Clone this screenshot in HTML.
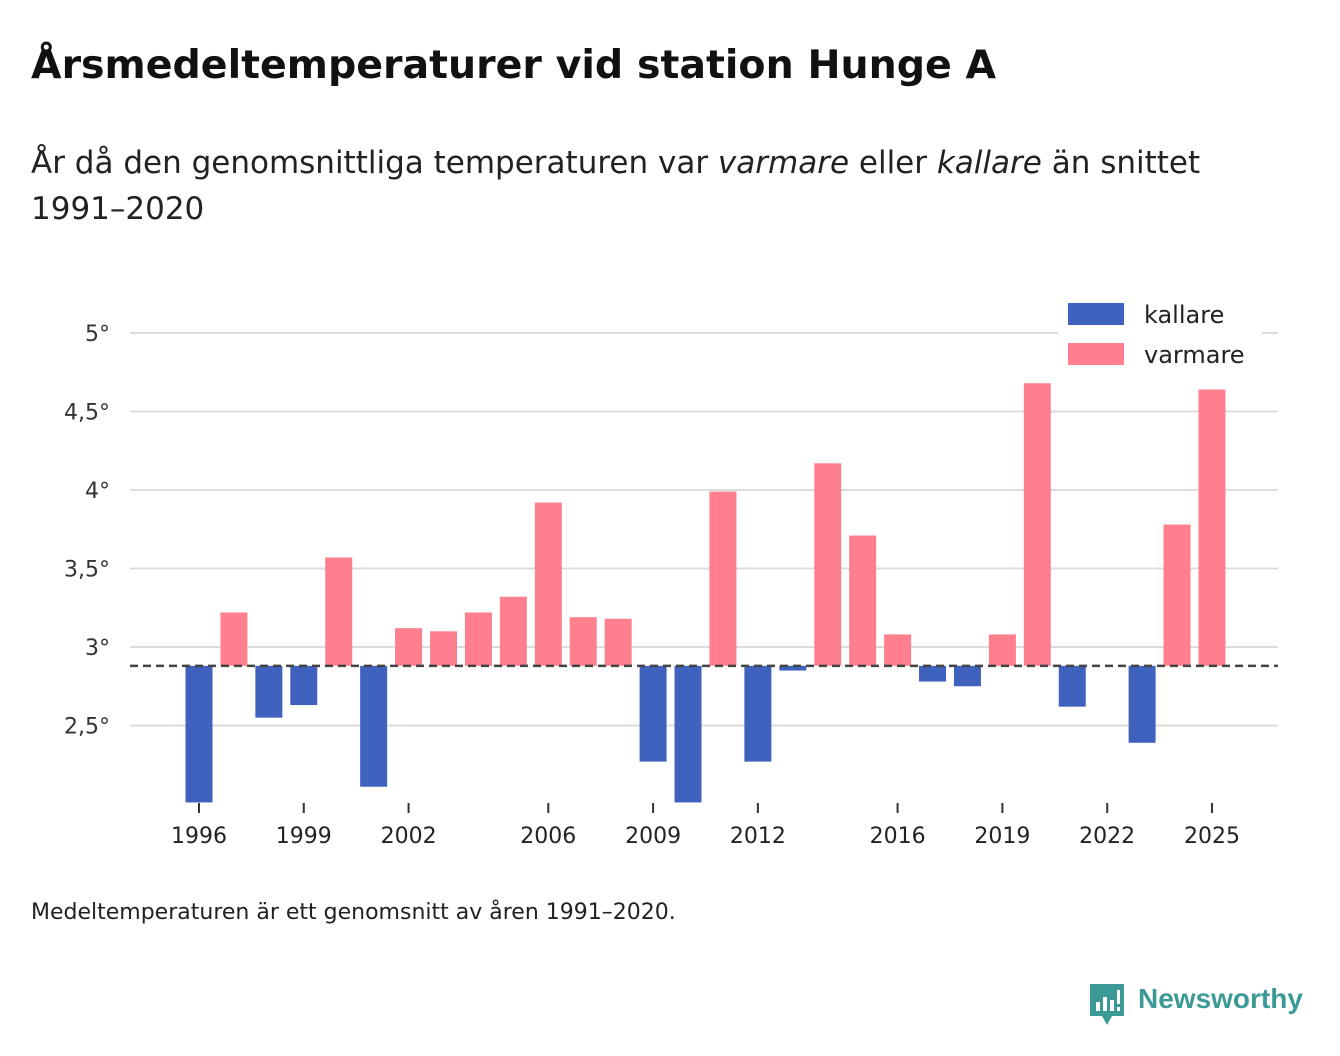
<!DOCTYPE html>
<html><head><meta charset="utf-8"><style>
body{margin:0;background:#fff;font-family:"DejaVu Sans","Liberation Sans",sans-serif;color:#111;}
#wrap{position:relative;width:1340px;height:1056px;overflow:hidden;}
h1{position:absolute;left:31px;top:42px;margin:0;font-size:39.5px;font-weight:bold;}
.sub{position:absolute;left:31px;top:140px;font-size:31px;line-height:46px;color:#222;width:1280px;}
.foot{position:absolute;left:31px;top:900px;font-size:22px;color:#222;}
.brand{position:absolute;left:1138px;top:983px;font-size:28px;font-weight:bold;color:#3c9a96;font-family:"Liberation Sans",sans-serif;}
</style></head><body><div id="wrap">
<h1>Årsmedeltemperaturer vid station Hunge A</h1>
<div class="sub">År då den genomsnittliga temperaturen var <i>varmare</i> eller <i>kallare</i> än snittet<br>1991–2020</div>
<svg id="chart" width="1340" height="1056" style="position:absolute;left:0;top:0;font-family:'DejaVu Sans',sans-serif"></svg>
<div class="foot">Medeltemperaturen är ett genomsnitt av åren 1991–2020.</div>
<svg style="position:absolute;left:1090px;top:984px" width="34" height="42"><path d="M0 0h34v32h-12l-5 9l-5-9h-12z" fill="#3c9a96"/><rect x="6" y="18" width="4" height="9" fill="#fff"/><rect x="13" y="13" width="4" height="14" fill="#fff"/><rect x="20" y="16" width="4" height="11" fill="#fff"/><rect x="27" y="6" width="3" height="14" fill="#fff"/><rect x="27" y="23" width="3" height="4" fill="#fff"/></svg>
<div class="brand">Newsworthy</div>
</div>
<script>
const years=[1996,1997,1998,1999,2000,2001,2002,2003,2004,2005,2006,2007,2008,2009,2010,2011,2012,2013,2014,2015,2016,2017,2018,2019,2020,2021,2022,2023,2024,2025];
const temps=[2.01,3.22,2.55,2.63,3.57,2.11,3.12,3.10,3.22,3.32,3.92,3.19,3.18,2.27,2.01,3.99,2.27,2.85,4.17,3.71,3.08,2.78,2.75,3.08,4.68,2.62,null,2.39,3.78,4.64];
const baseline=2.88;
const yTicks=[2.5,3,3.5,4,4.5,5];
const yTickLabels=["2,5°","3°","3,5°","4°","4,5°","5°"];
const xTicks=[1996,1999,2002,2006,2009,2012,2016,2019,2022,2025];
const NS="http://www.w3.org/2000/svg";
const svg=document.getElementById('chart');
const y=v=>647-(v-3)*157;
const x=yr=>199+(yr-1996)*34.93;
function mk(t,a){const e=document.createElementNS(NS,t);for(const k in a)e.setAttribute(k,a[k]);svg.appendChild(e);return e;}
yTicks.forEach((v,i)=>{
 const g=mk('line',{x1:130,x2:1278,y1:y(v),y2:y(v),stroke:'#dcdcdc','stroke-width':2});
 
 
 const t=mk('text',{x:110,y:y(v)+8,'text-anchor':'end','font-size':22,fill:'#333'});
 t.textContent=yTickLabels[i];
 
 
});
years.forEach((yr,i)=>{
 const v=temps[i]; if(v==null)return;
 const top=y(Math.max(v,baseline)),bot=y(Math.min(v,baseline));
 const r=mk('rect',{x:x(yr)-13.5,y:top,width:27,height:Math.max(bot-top,1),fill:v>=baseline?'#ff7f8e':'#3f62be'});
 
 
});
const bl=mk('line',{x1:130,x2:1278,y1:y(baseline),y2:y(baseline),stroke:'#444','stroke-width':2.5,'stroke-dasharray':'8,5'});


xTicks.forEach(yr=>{
 const l=mk('line',{x1:x(yr),x2:x(yr),y1:803,y2:813,stroke:'#333','stroke-width':2});
 
 
 const t=mk('text',{x:x(yr),y:843,'text-anchor':'middle','font-size':22,fill:'#222'});
 t.textContent=yr;
 
 
});
const lg=mk('rect',{x:1058,y:296,width:204,height:80,fill:'#fff'});


[['kallare','#3f62be',303],['varmare','#ff7f8e',343]].forEach(([n,c,yy])=>{
 const r=mk('rect',{x:1068,y:yy,width:56,height:22,fill:c});
 
 
 const t=mk('text',{x:1144,y:yy+20,'font-size':24,fill:'#222'});
 t.textContent=n;
 
 
});
</script></body></html>
